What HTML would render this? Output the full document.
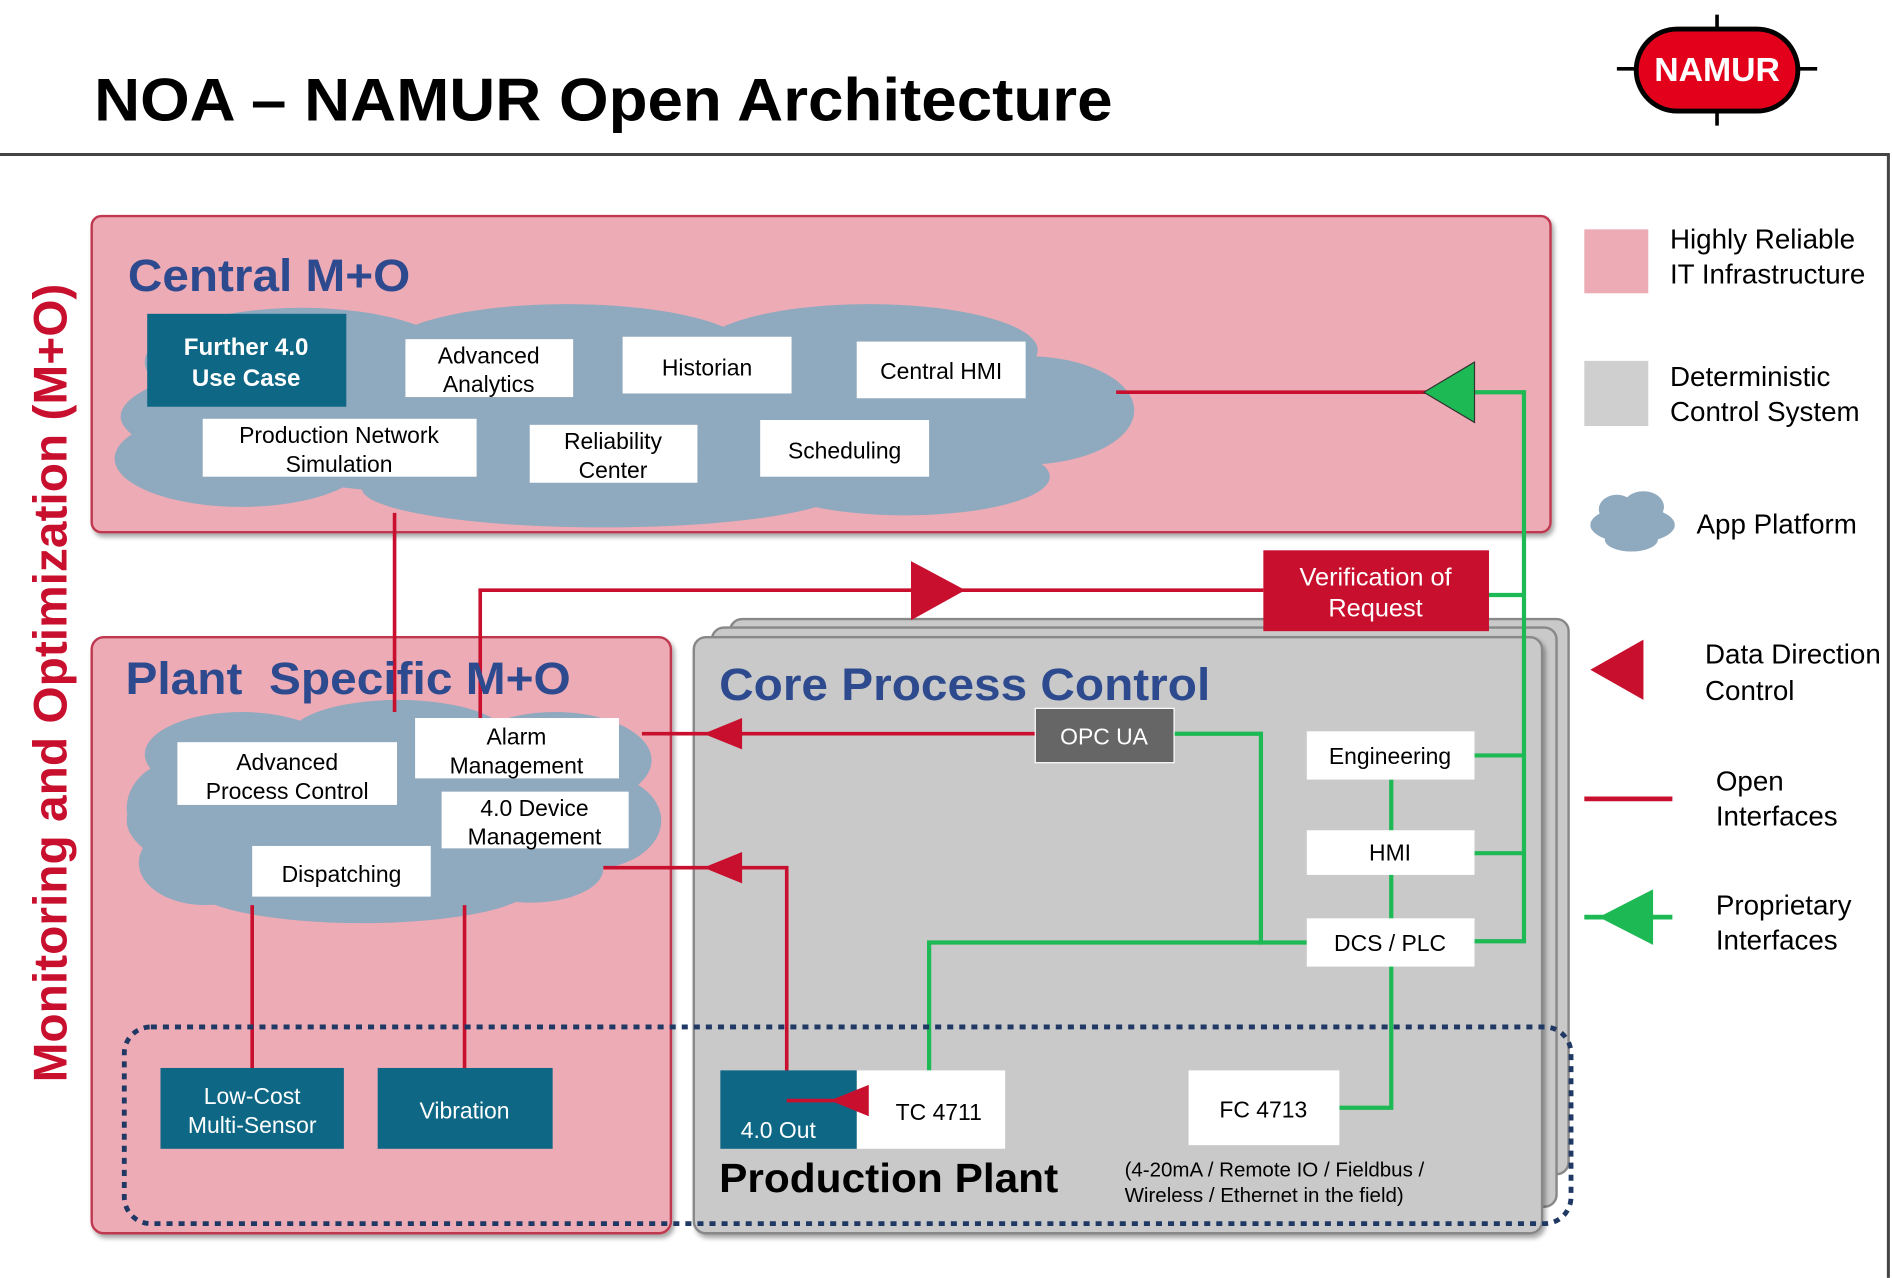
<!DOCTYPE html>
<html><head><meta charset="utf-8"><style>html,body{margin:0;padding:0;background:#fff}svg{display:block}text{font-family:"Liberation Sans",Arial,sans-serif}</style></head><body>
<svg width="1892" height="1278" viewBox="0 0 1568 1059" xmlns="http://www.w3.org/2000/svg">
<defs><filter id="sh" x="-5%" y="-5%" width="110%" height="110%"><feDropShadow dx="2" dy="3" stdDeviation="2" flood-color="#000" flood-opacity="0.35"/></filter></defs>
<rect width="1568" height="1059" fill="#fff"/>
<text x="78" y="100" font-size="50" font-weight="bold" fill="#000" textLength="844" lengthAdjust="spacingAndGlyphs">NOA – NAMUR Open Architecture</text>
<polyline points="0,128 1565,128 1565,1059" fill="none" stroke="#444" stroke-width="2.5"/>
<line x1="1340" y1="57" x2="1506" y2="57" stroke="#000" stroke-width="3"/>
<line x1="1423" y1="12" x2="1423" y2="104" stroke="#000" stroke-width="3"/>
<rect x="1356" y="24" width="134" height="68" rx="34" fill="#e3001b" stroke="#000" stroke-width="4"/>
<text x="1423" y="67" font-size="28" font-weight="bold" fill="#fff" text-anchor="middle">NAMUR</text>
<text transform="translate(55,566) rotate(-90)" font-size="39" font-weight="bold" fill="#c8102e" text-anchor="middle" textLength="662" lengthAdjust="spacingAndGlyphs">Monitoring and Optimization (M+O)</text>
<rect x="76" y="179" width="1209" height="262" rx="8" fill="#edabb6" stroke="#c0394f" stroke-width="2" filter="url(#sh)"/>
<text x="106" y="241" font-size="38" font-weight="bold" fill="#2e4a8f" textLength="234" lengthAdjust="spacingAndGlyphs">Central M+O</text>
<g fill="#8fa9be">
<ellipse cx="500" cy="345" rx="400" ry="70"/><ellipse cx="250" cy="300" rx="130" ry="45"/><ellipse cx="470" cy="290" rx="150" ry="38"/><ellipse cx="720" cy="290" rx="140" ry="38"/><ellipse cx="850" cy="340" rx="90" ry="45"/><ellipse cx="200" cy="380" rx="105" ry="40"/><ellipse cx="500" cy="405" rx="200" ry="32"/><ellipse cx="750" cy="395" rx="120" ry="32"/>
</g>
<rect x="122" y="260" width="165" height="77" fill="#0e6785"/>
<text x="204" y="294" font-size="20" font-weight="bold" fill="#fff" text-anchor="middle">Further 4.0</text>
<text x="204" y="320" font-size="20" font-weight="bold" fill="#fff" text-anchor="middle">Use Case</text>
<g fill="#fff"><rect x="336" y="281" width="139" height="48"/><rect x="516" y="279" width="140" height="47"/><rect x="710" y="283" width="140" height="47"/><rect x="168" y="347" width="227" height="48"/><rect x="439" y="352" width="139" height="48"/><rect x="630" y="348" width="140" height="47"/></g>
<g font-size="19" fill="#000" text-anchor="middle">
<text x="405" y="301">Advanced</text><text x="405" y="325">Analytics</text>
<text x="586" y="311">Historian</text>
<text x="780" y="314">Central HMI</text>
<text x="281" y="367">Production Network</text><text x="281" y="391">Simulation</text>
<text x="508" y="372">Reliability</text><text x="508" y="396">Center</text>
<text x="700" y="380">Scheduling</text>
</g>
<rect x="605" y="513" width="695" height="460" rx="10" fill="#c9c9c9" stroke="#888" stroke-width="2"/>
<rect x="590" y="520" width="700" height="480" rx="10" fill="#c9c9c9" stroke="#888" stroke-width="2"/>
<rect x="575" y="528" width="703" height="494" rx="10" fill="#c9c9c9" stroke="#888" stroke-width="2" filter="url(#sh)"/>
<text x="596" y="580" font-size="38" font-weight="bold" fill="#2e4a8f" textLength="407" lengthAdjust="spacingAndGlyphs">Core Process Control</text>
<rect x="76" y="528" width="480" height="494" rx="10" fill="#edabb6" stroke="#c0394f" stroke-width="2" filter="url(#sh)"/>
<g fill="#8fa9be">
<ellipse cx="320" cy="680" rx="215" ry="65"/><ellipse cx="200" cy="625" rx="80" ry="35"/><ellipse cx="330" cy="610" rx="90" ry="30"/><ellipse cx="460" cy="630" rx="80" ry="40"/><ellipse cx="490" cy="680" rx="58" ry="40"/><ellipse cx="150" cy="670" rx="45" ry="40"/><ellipse cx="170" cy="715" rx="55" ry="35"/><ellipse cx="300" cy="735" rx="140" ry="30"/><ellipse cx="440" cy="720" rx="60" ry="28"/>
</g>
<g stroke="#c8102e" stroke-width="3" fill="none">
<line x1="925" y1="325" x2="1185" y2="325"/>
<line x1="327" y1="425" x2="327" y2="590"/>
<polyline points="398,610 398,489 1047,489"/>
<line x1="532" y1="608" x2="858" y2="608"/>
<polyline points="500,719 652,719 652,912 720,912"/>
<line x1="209" y1="750" x2="209" y2="885"/>
<line x1="385" y1="750" x2="385" y2="885"/>
</g>
<text x="104" y="575" font-size="38" font-weight="bold" fill="#2e4a8f" textLength="369" lengthAdjust="spacingAndGlyphs">Plant&#160;&#160;Specific M+O</text>
<g fill="#fff"><rect x="147" y="615" width="182" height="52"/><rect x="344" y="595" width="169" height="50"/><rect x="366" y="656" width="155" height="47"/><rect x="209" y="701" width="148" height="42"/></g>
<g font-size="19" fill="#000" text-anchor="middle">
<text x="238" y="638">Advanced</text><text x="238" y="662">Process Control</text>
<text x="428" y="617">Alarm</text><text x="428" y="641">Management</text>
<text x="443" y="676">4.0 Device</text><text x="443" y="700">Management</text>
<text x="283" y="731">Dispatching</text>
</g>
<g fill="#c8102e">
<polygon points="755,465 800,489 755,514"/>
<polygon points="583,608 615,595 615,621"/>
<polygon points="583,719 615,706 615,732"/>
</g>
<g stroke="#1db954" stroke-width="3.5" fill="none">
<polyline points="1222,325 1263,325 1263,780 1222,780"/>
<line x1="1234" y1="493" x2="1263" y2="493"/>
<line x1="1222" y1="626" x2="1263" y2="626"/>
<line x1="1222" y1="707" x2="1263" y2="707"/>
<polyline points="973,608 1045,608 1045,781 1083,781"/>
<polyline points="1045,781 770,781 770,887"/>
<polyline points="1153,646 1153,918 1110,918"/>
</g>
<polygon points="1180,325 1222,300 1222,350" fill="#1db954" stroke="#333" stroke-width="1"/>
<rect x="1047" y="456" width="187" height="67" fill="#c8102e"/>
<text x="1140" y="485" font-size="21" fill="#fff" text-anchor="middle">Verification of</text>
<text x="1140" y="511" font-size="21" fill="#fff" text-anchor="middle">Request</text>
<rect x="858" y="587" width="115" height="45" fill="#666" stroke="#fff" stroke-width="1"/>
<text x="915" y="617" font-size="19" fill="#fff" text-anchor="middle">OPC UA</text>
<g fill="#fff"><rect x="1083" y="606" width="139" height="40"/><rect x="1083" y="688" width="139" height="37"/><rect x="1083" y="761" width="139" height="40"/><rect x="710" y="887" width="123" height="65"/><rect x="985" y="887" width="125" height="62"/></g>
<g font-size="19" fill="#000" text-anchor="middle">
<text x="1152" y="633">Engineering</text><text x="1152" y="713">HMI</text><text x="1152" y="788">DCS / PLC</text>
<text x="778" y="928">TC 4711</text><text x="1047" y="926">FC 4713</text>
</g>
<rect x="103" y="851" width="1199" height="163" rx="22" fill="none" stroke="#1f3864" stroke-width="4" stroke-dasharray="5,5"/>
<g fill="#0e6785"><rect x="133" y="885" width="152" height="67"/><rect x="313" y="885" width="145" height="67"/><rect x="597" y="887" width="113" height="65"/></g>
<g font-size="19" fill="#fff" text-anchor="middle">
<text x="209" y="915">Low-Cost</text><text x="209" y="939">Multi-Sensor</text>
<text x="385" y="927">Vibration</text><text x="645" y="943">4.0 Out</text>
</g>
<line x1="652" y1="912" x2="700" y2="912" stroke="#c8102e" stroke-width="3"/>
<polygon points="688,912 720,899 720,925" fill="#c8102e"/>
<text x="596" y="988" font-size="34" font-weight="bold" fill="#000" textLength="281" lengthAdjust="spacingAndGlyphs">Production Plant</text>
<text x="932" y="975" font-size="17" fill="#000">(4-20mA / Remote IO / Fieldbus /</text>
<text x="932" y="996" font-size="17" fill="#000">Wireless / Ethernet in the field)</text>
<rect x="1313" y="190" width="53" height="53" fill="#edabb6"/>
<text x="1384" y="206" font-size="23">Highly Reliable</text><text x="1384" y="235" font-size="23">IT Infrastructure</text>
<rect x="1313" y="299" width="53" height="54" fill="#cfcfcf"/>
<text x="1384" y="320" font-size="23">Deterministic</text><text x="1384" y="349" font-size="23">Control System</text>
<g fill="#8fa9be"><ellipse cx="1353" cy="435" rx="35" ry="15"/><ellipse cx="1340" cy="422" rx="15" ry="12"/><ellipse cx="1362" cy="420" rx="17" ry="13"/><ellipse cx="1352" cy="447" rx="22" ry="10"/></g>
<text x="1406" y="442" font-size="23">App Platform</text>
<polygon points="1318,555 1362,530 1362,580" fill="#c8102e"/>
<text x="1413" y="550" font-size="23">Data Direction</text><text x="1413" y="580" font-size="23">Control</text>
<line x1="1313" y1="662" x2="1386" y2="662" stroke="#c8102e" stroke-width="4"/>
<text x="1422" y="655" font-size="23">Open</text><text x="1422" y="684" font-size="23">Interfaces</text>
<line x1="1313" y1="760" x2="1386" y2="760" stroke="#1db954" stroke-width="4"/>
<polygon points="1325,760 1370,737 1370,783" fill="#1db954"/>
<text x="1422" y="758" font-size="23">Proprietary</text><text x="1422" y="787" font-size="23">Interfaces</text>
</svg>
</body></html>
